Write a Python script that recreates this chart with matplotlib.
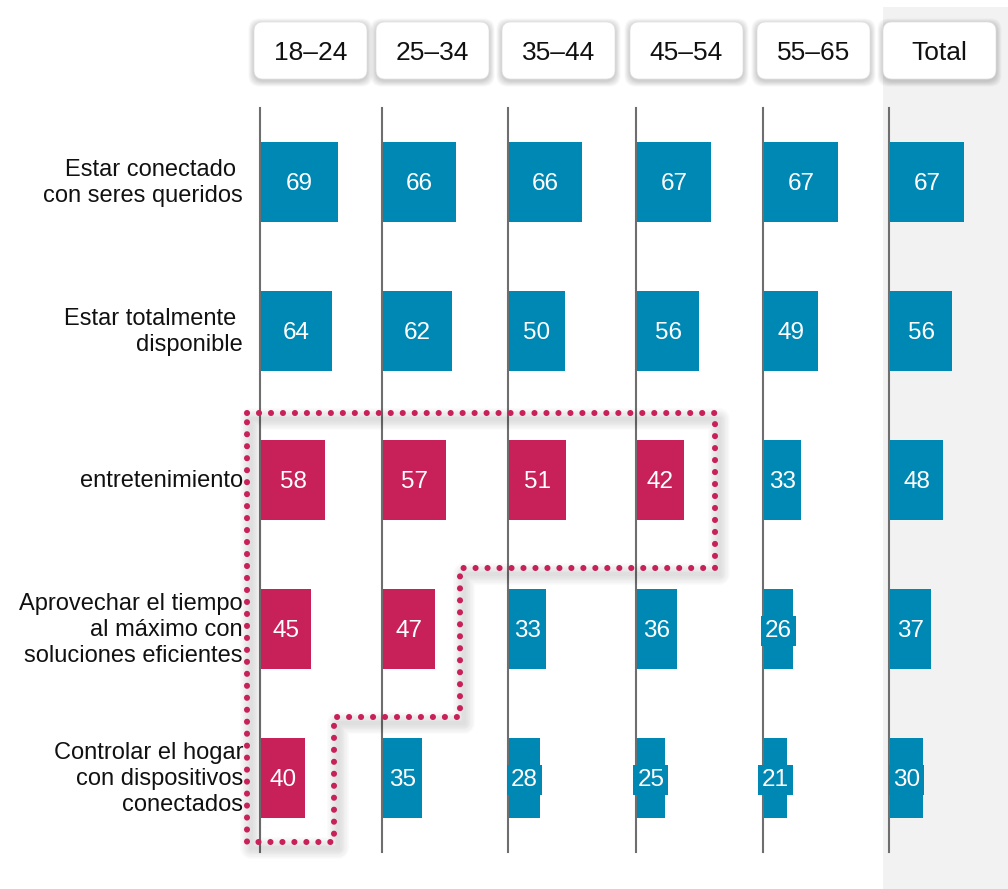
import matplotlib
matplotlib.use('Agg')
import matplotlib.pyplot as plt
from matplotlib.patches import FancyBboxPatch, Rectangle
import numpy as np

plt.rcParams['font.family'] = ['Liberation Sans', 'DejaVu Sans']

# Data
groups = ['18–24', '25–34', '35–44', '45–54', '55–65', 'Total']
rows = [
    'Estar conectado \ncon seres queridos',
    'Estar totalmente \ndisponible',
    'entretenimiento',
    'Aprovechar el tiempo\nal máximo con\nsoluciones eficientes',
    'Controlar el hogar\ncon dispositivos\nconectados',
]
conectado = [69, 66, 66, 67, 67, 67]
disponible = [64, 62, 50, 56, 49, 56]
entretenimiento = [58, 57, 51, 42, 33, 48]
aprovechar = [45, 47, 33, 36, 26, 37]
controlar = [40, 35, 28, 25, 21, 30]
values = [conectado, disponible, entretenimiento, aprovechar, controlar]

# number of leading (highlighted) groups per row
highlight_upto = [0, 0, 4, 2, 1]

BLUE = '#0088B4'
CRIMSON = '#C8215A'
GREY_BG = '#F2F2F2'
TEXT = '#111111'

# layout in pixels
W, H = 1008, 889
col_x = np.array([260, 382, 508, 636, 763, 889])
row_y = np.array([182, 331, 480, 629, 778])
PX_PER_UNIT = 1.11
BAR_H = 80

fig = plt.figure(figsize=(W / 100, H / 100), dpi=100)
ax = fig.add_axes([0, 0, 1, 1])
ax.set_xlim(0, W)
ax.set_ylim(H, 0)
ax.axis('off')

# grey band behind the Total column
ax.add_patch(Rectangle((col_x[-1] - 6, 7), W - col_x[-1] + 6, H, fc=GREY_BG, ec='none', zorder=0))

# column baselines
for x in col_x:
    ax.plot([x, x], [108, 852], color='#6e6e6e', lw=1.5, zorder=1)

# header boxes with soft shadow
for x, g in zip(col_x, groups):
    bx, by, bw, bh = x - 6, 22, 113, 57
    for k in range(8, 0, -1):
        ax.add_patch(FancyBboxPatch((bx - k * 0.7, by + 2 - k * 0.7), bw + k * 1.4, bh + k * 1.4,
                                    boxstyle='round,pad=0,rounding_size=11',
                                    fc='black', ec='none', alpha=0.025, zorder=2))
    ax.add_patch(FancyBboxPatch((bx, by), bw, bh, boxstyle='round,pad=0,rounding_size=9',
                                fc='white', ec='#e2e2e2', lw=0.5, zorder=3))
    ax.text(bx + bw / 2, by + bh / 2 + 3, g, ha='center', va='center',
            fontsize=19, color=TEXT, zorder=4)

# bars and value labels
for r, (label, vals) in enumerate(zip(rows, values)):
    ax.text(243, row_y[r] + 1, label, ha='right', va='center', fontsize=17,
            color=TEXT, linespacing=1.25, zorder=4)
    for c, v in enumerate(vals):
        color = CRIMSON if c < highlight_upto[r] else BLUE
        w = v * PX_PER_UNIT
        ax.barh(row_y[r], w, height=BAR_H, left=col_x[c] + 1, color=color, zorder=3)
        ax.text(col_x[c] + 1 + w / 2, row_y[r] + 2, str(v), ha='center', va='center',
                fontsize=17.5, color='white', zorder=5,
                bbox=dict(boxstyle='square,pad=0.16', fc=color, ec='none'))

# dotted outline around the highlighted cells
left = col_x[0] - 13
top = row_y[2] - 67
bottom = row_y[4] + 64
xs = [left]
ys = [top]
prev_y = top
for r in range(2, 5):
    n = highlight_upto[r]
    right = col_x[n] - 48
    step_y = row_y[r] + 88 if r < 4 else bottom
    xs += [right, right]
    ys += [prev_y, step_y]
    prev_y = step_y
xs += [left, left]
ys += [bottom, top]

# soft drop shadow under the dotted outline
for lw in np.linspace(16, 3, 8):
    ax.plot(np.array(xs) + 4, np.array(ys) + 6, color='black', lw=lw, alpha=0.016,
            solid_joinstyle='round', solid_capstyle='round', zorder=2)
ax.plot(xs, ys, color=CRIMSON, lw=4.4, linestyle=(0, (0.01, 1.95)),
        dash_capstyle='round', zorder=6)

fig.savefig('out.png', dpi=100)
